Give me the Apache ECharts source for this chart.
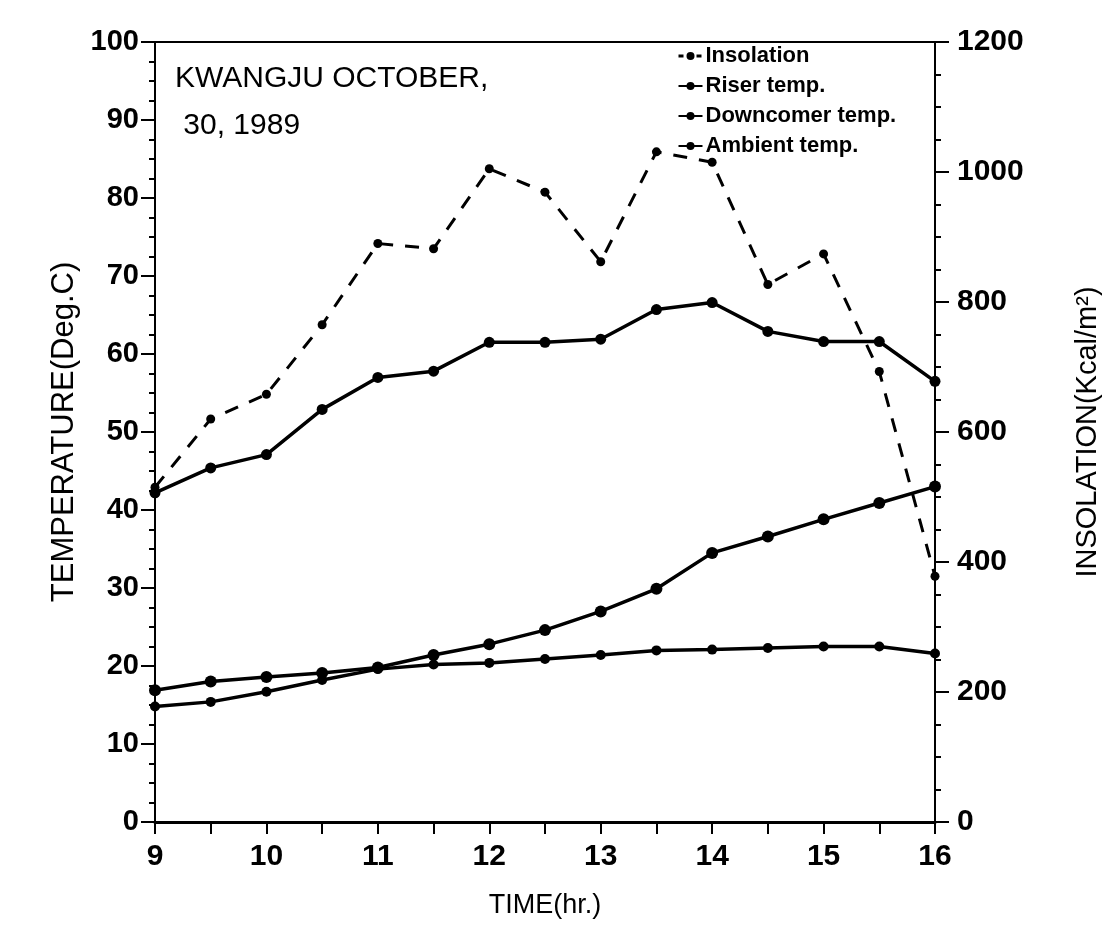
<!DOCTYPE html>
<html>
<head>
<meta charset="utf-8">
<script src="https://cdn.jsdelivr.net/npm/echarts@6/dist/echarts.min.js"></script>
<style>html,body{margin:0;padding:0;background:#fff}#c{width:1120px;height:936px}</style>
</head>
<body>
<div id="c"></div>
<script>
var hours = [9, 9.5, 10, 10.5, 11, 11.5, 12, 12.5, 13, 13.5, 14, 14.5, 15, 15.5, 16];
var insolation = [515, 620, 658, 765, 890, 882, 1005, 969, 862, 1031, 1015, 827, 874, 693, 378];
var riser = [42.2, 45.4, 47.1, 52.9, 57.0, 57.8, 61.5, 61.5, 61.9, 65.7, 66.6, 62.9, 61.6, 61.6, 56.5];
var downcomer = [16.9, 18.0, 18.6, 19.1, 19.8, 21.4, 22.8, 24.6, 27.0, 29.9, 34.5, 36.6, 38.8, 40.9, 43.0];
var ambient = [14.8, 15.4, 16.7, 18.2, 19.6, 20.2, 20.4, 20.9, 21.4, 22.0, 22.1, 22.3, 22.5, 22.5, 21.6];
var seriesNames = ['Insolation', 'Riser temp.', 'Downcomer temp.', 'Ambient temp.'];

function pairs(vals) { return hours.map(function (h, i) { return [h, vals[i]]; }); }
var FONT = 'Liberation Sans';
var chart = echarts.init(document.getElementById('c'));
chart.setOption({
  backgroundColor: '#fff',
  animation: false,
  textStyle: { fontFamily: FONT, color: '#000' },
  title: {
    text: 'KWANGJU OCTOBER,\n 30, 1989',
    left: 170, top: 50,
    textStyle: { fontFamily: FONT, fontSize: 30, fontWeight: 'normal', lineHeight: 47, color: '#000' }
  },
  legend: {
    orient: 'vertical', left: 672, top: 40, itemGap: 8, itemWidth: 24, itemHeight: 10,
    data: [
      { name: seriesNames[0], lineStyle: { type: [5, 4], width: 3 } },
      { name: seriesNames[1] },
      { name: seriesNames[2] },
      { name: seriesNames[3] }
    ],
    textStyle: { fontFamily: FONT, fontSize: 22, fontWeight: 'bold', color: '#000', lineHeight: 22, padding: [0, 0, 0, -2] }
  },
  grid: { left: 155, right: 185, top: 42, bottom: 114, show: true, borderColor: '#000', borderWidth: 2 },
  xAxis: {
    type: 'value', min: 9, max: 16, interval: 1,
    name: 'TIME(hr.)', nameLocation: 'middle', nameGap: 70,
    nameTextStyle: { fontFamily: FONT, fontSize: 27, color: '#000' },
    axisLine: { lineStyle: { color: '#000', width: 3 } },
    axisTick: { inside: false, length: 12, lineStyle: { color: '#000', width: 2 } },
    minorTick: { show: true, splitNumber: 2, length: 12, lineStyle: { color: '#000', width: 2 } },
    splitLine: { show: false },
    axisLabel: { fontFamily: FONT, fontSize: 30, fontWeight: 'bold', color: '#000', margin: 20 }
  },
  yAxis: [{
    type: 'value', min: 0, max: 100, interval: 10,
    name: 'TEMPERATURE(Deg.C)', nameLocation: 'middle', nameGap: 64, nameRotate: 90,
    nameTextStyle: { fontFamily: FONT, fontSize: 31, color: '#000' },
    axisLine: { show: true, lineStyle: { color: '#000', width: 2 } },
    axisTick: { show: true, inside: false, length: 14, lineStyle: { color: '#000', width: 2 } },
    minorTick: { show: true, splitNumber: 4, length: 6, lineStyle: { color: '#000', width: 2 } },
    splitLine: { show: false },
    axisLabel: { fontFamily: FONT, fontSize: 29, fontWeight: 'bold', color: '#000', margin: 16 }
  }, {
    type: 'value', min: 0, max: 1200, interval: 200, position: 'right',
    name: 'INSOLATION(Kcal/m²)', nameLocation: 'middle', nameGap: 138, nameRotate: 90,
    nameTextStyle: { fontFamily: FONT, fontSize: 29, color: '#000' },
    axisLine: { show: true, lineStyle: { color: '#000', width: 2 } },
    axisTick: { show: true, inside: false, length: 14, lineStyle: { color: '#000', width: 2 } },
    minorTick: { show: true, splitNumber: 4, length: 6, lineStyle: { color: '#000', width: 2 } },
    splitLine: { show: false },
    axisLabel: { fontFamily: FONT, fontSize: 30, fontWeight: 'bold', color: '#000', margin: 22,
      formatter: function (v) { return String(v); } }
  }],
  series: [{
    name: seriesNames[0], type: 'line', yAxisIndex: 1, data: pairs(insolation),
    symbol: 'circle', symbolSize: 9,
    lineStyle: { color: '#000', width: 3, type: [14, 12] },
    itemStyle: { color: '#000' }
  }, {
    name: seriesNames[1], type: 'line', data: pairs(riser),
    symbol: 'circle', symbolSize: 11,
    lineStyle: { color: '#000', width: 3.5 }, itemStyle: { color: '#000' }
  }, {
    name: seriesNames[2], type: 'line', data: pairs(downcomer),
    symbol: 'circle', symbolSize: 12,
    lineStyle: { color: '#000', width: 3.5 }, itemStyle: { color: '#000' }
  }, {
    name: seriesNames[3], type: 'line', data: pairs(ambient),
    symbol: 'circle', symbolSize: 10,
    lineStyle: { color: '#000', width: 3.5 }, itemStyle: { color: '#000' }
  }]
});
</script>
</body>
</html>
